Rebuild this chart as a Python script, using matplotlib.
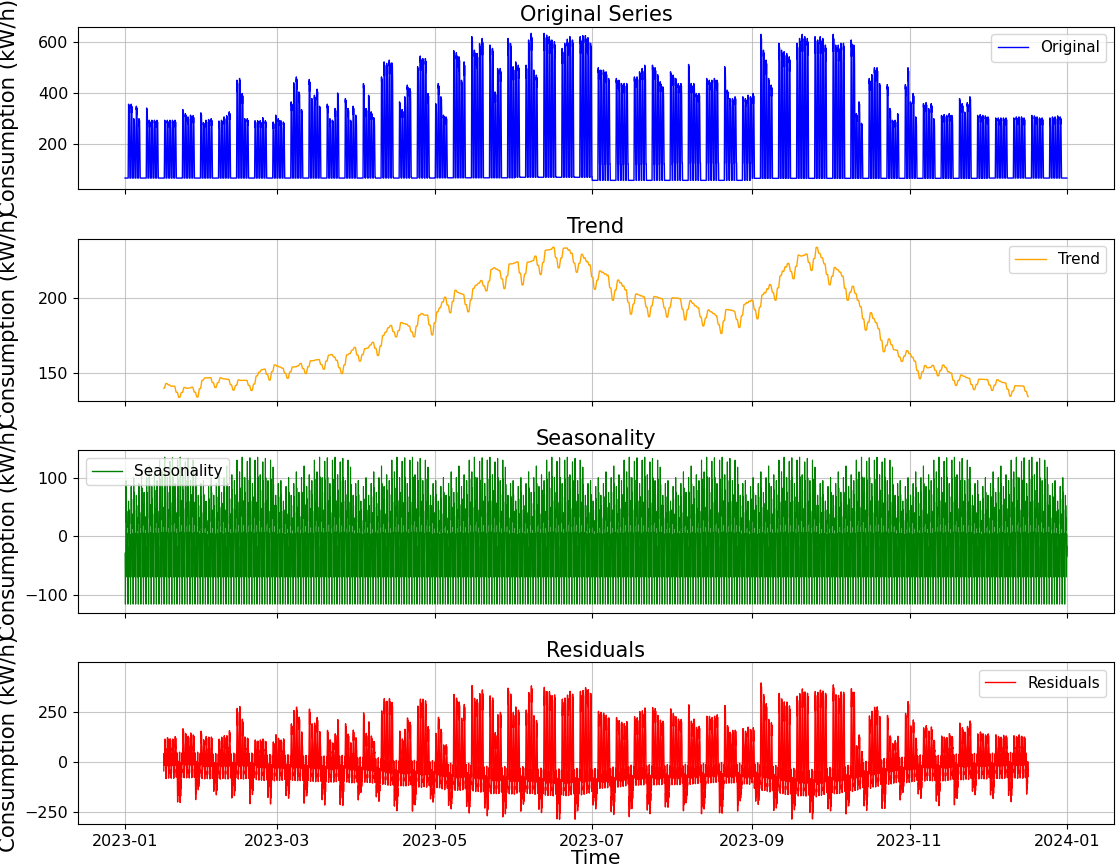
import numpy as np
import pandas as pd
import matplotlib
matplotlib.use("Agg")
import matplotlib.pyplot as plt
import matplotlib.dates as mdates

# weekday (Mon..Fri) peak load of every week of 2023
# first week starts Monday 2023-01-02, last one Monday 2023-12-25
week_peaks = [
    [355, 355, 298, 347, 298], [340, 292, 292, 292, 292], [292, 292, 292, 292, 292],
    [334, 318, 305, 312, 310], [321, 283, 292, 295, 298], [289, 292, 305, 310, 325],
    [449, 456, 397, 298, 298], [290, 290, 290, 302, 290], [285, 312, 298, 290, 285],
    [364, 439, 462, 403, 334], [452, 377, 390, 414, 347], [355, 298, 292, 338, 399],
    [377, 338, 292, 347, 312], [436, 338, 390, 325, 302], [462, 521, 515, 528, 517],
    [364, 334, 384, 430, 416], [502, 544, 534, 534, 397], [357, 436, 384, 312, 305],
    [565, 557, 541, 449, 521], [620, 567, 554, 593, 613], [587, 574, 403, 495, 495],
    [613, 593, 502, 521, 508], [508, 607, 633, 489, 469], [633, 626, 620, 607, 600],
    [574, 594, 610, 620, 607], [620, 624, 624, 616, 594], [498, 489, 489, 482, 456],
    [456, 449, 436, 436, 436], [462, 462, 482, 495, 508], [508, 498, 471, 443, 423],
    [482, 469, 456, 436, 436], [511, 436, 436, 397, 397], [456, 449, 449, 456, 449],
    [502, 410, 377, 377, 384], [384, 377, 390, 384, 397], [629, 567, 528, 456, 430],
    [594, 567, 561, 554, 541], [594, 613, 629, 620, 613], [620, 607, 620, 613, 587],
    [629, 587, 587, 594, 594], [607, 587, 318, 364, 280], [456, 471, 498, 498, 436],
    [432, 338, 292, 292, 318], [432, 498, 364, 397, 305], [357, 361, 338, 357, 298],
    [311, 314, 311, 318, 311], [377, 357, 324, 361, 384], [311, 314, 311, 309, 305],
    [301, 301, 301, 301, 301], [301, 305, 305, 305, 301], [311, 309, 305, 301, 301],
    [301, 305, 305, 309, 305],
]

# night / weekend base load and the daytime floor of working days, per month (kW/h)
month_base = [65, 65, 65, 65, 66, 68, 56, 56, 64, 64, 64, 65]
month_floor = [65, 65, 65, 68, 66, 70, 120, 125, 64, 64, 64, 65]

# share of the weekday peak (above the floor) for each hour of a working day
day_profile = [0, 0, 0, 0, 0, 0, 0.2, 0.5, 0.85, 1.0, 0.95, 0.98,
               0.88, 0.93, 0.97, 0.9, 0.85, 0.65, 0.45, 0.25, 0.1, 0, 0, 0]
floor_from_hour = 6

# seasonal component: daily peak for each day of the 30 day cycle (starting 2023-01-01),
# the night trough, and the hourly shape (-1 = trough, 1 = peak)
cycle_peaks = [95, 60, 85, 100, 70, 90, 110, 75, 100, 120, 85, 105, 95, 130, 110,
               135, 100, 128, 134, 90, 130, 135, 105, 127, 133, 95, 130, 118, 70, 90]
season_trough = -116
season_shape = [-0.25, -0.6, -0.9, -1.0, -0.85, -0.5, -0.1, 0.35, 0.8, 1.0, 0.55, 0.25,
                0.6, 0.75, 0.35, 0.15, 0.45, 0.1, -0.35, -0.6, -0.2, 0.05, -0.3, -0.15]

period = 720  # 30 days of hourly values

# hourly series for 2023
idx = pd.date_range("2023-01-01", periods=8760, freq="h")
hour = idx.hour.values
base = np.array(month_base, dtype=float)[idx.month - 1]
floor = np.array(month_floor, dtype=float)[idx.month - 1]
floor = np.where(hour >= floor_from_hour, floor, base)
days = (idx.normalize() - pd.Timestamp("2023-01-02")).days.values
week = np.clip(days // 7, 0, len(week_peaks) - 1)
dow = idx.dayofweek.values
workday = (dow < 5) & (days >= 0)
peaks = np.array(week_peaks, dtype=float)[week, np.clip(dow, 0, 4)]
load = np.where(workday, floor + np.array(day_profile)[hour] * (peaks - floor), base)

# trend: centred 30 day moving average (as in seasonal_decompose)
filt = np.r_[0.5, np.ones(period - 1), 0.5] / period
trend = np.convolve(load, filt, mode="valid")
trend = np.r_[np.full(period // 2, np.nan), trend, np.full(period // 2, np.nan)]

# seasonality from the read cycle values
day_of_cycle = ((idx.normalize() - pd.Timestamp("2023-01-01")).days.values) % 30
shape = np.array(season_shape)[hour]
cyc = np.array(cycle_peaks, dtype=float)[day_of_cycle]
seasonal = np.where(shape > 0, shape * cyc, -shape * season_trough)

# residuals = what is left
resid = load - trend - seasonal

fig, axes = plt.subplots(4, 1, figsize=(11.17, 8.68), dpi=100, sharex=True)
fig.subplots_adjust(left=0.0698, right=0.9973, top=0.9692, bottom=0.0503, hspace=0.305)

panels = [
    (load, "Original", "blue", "Original Series", "upper right", (22, 659), [200, 400, 600], 1.0),
    (trend, "Trend", "orange", "Trend", "upper right", (131.5, 240), [150, 200], 1.0),
    (seasonal, "Seasonality", "green", "Seasonality", "upper left", (-130.4, 146.8), [-100, 0, 100], 0.8),
    (resid, "Residuals", "red", "Residuals", "upper right", (-313, 497), [-250, 0, 250], 1.0),
]

for ax, (y, lab, col, title, loc, ylim, yticks, lw) in zip(axes, panels):
    ax.plot(idx, y, color=col, lw=lw, label=lab)
    ax.set_title(title, fontsize=15, pad=4)
    ax.set_ylabel("Consumption (kW/h)", fontsize=15.3)
    ax.set_ylim(*ylim)
    ax.set_yticks(yticks)
    ax.tick_params(labelsize=11.5)
    ax.grid(True, color="#b0b0b0", lw=0.8, alpha=0.7)
    leg = ax.legend(loc=loc, fontsize=11)
    for line in leg.get_lines():
        line.set_linewidth(1.0)

axes[-1].xaxis.set_major_locator(mdates.MonthLocator(bymonth=[1, 3, 5, 7, 9, 11]))
axes[-1].xaxis.set_major_formatter(mdates.DateFormatter("%Y-%m"))
axes[-1].set_xlabel("Time", fontsize=14.5, labelpad=0)
fig.align_ylabels(axes)

plt.savefig("out.png", dpi=100)
